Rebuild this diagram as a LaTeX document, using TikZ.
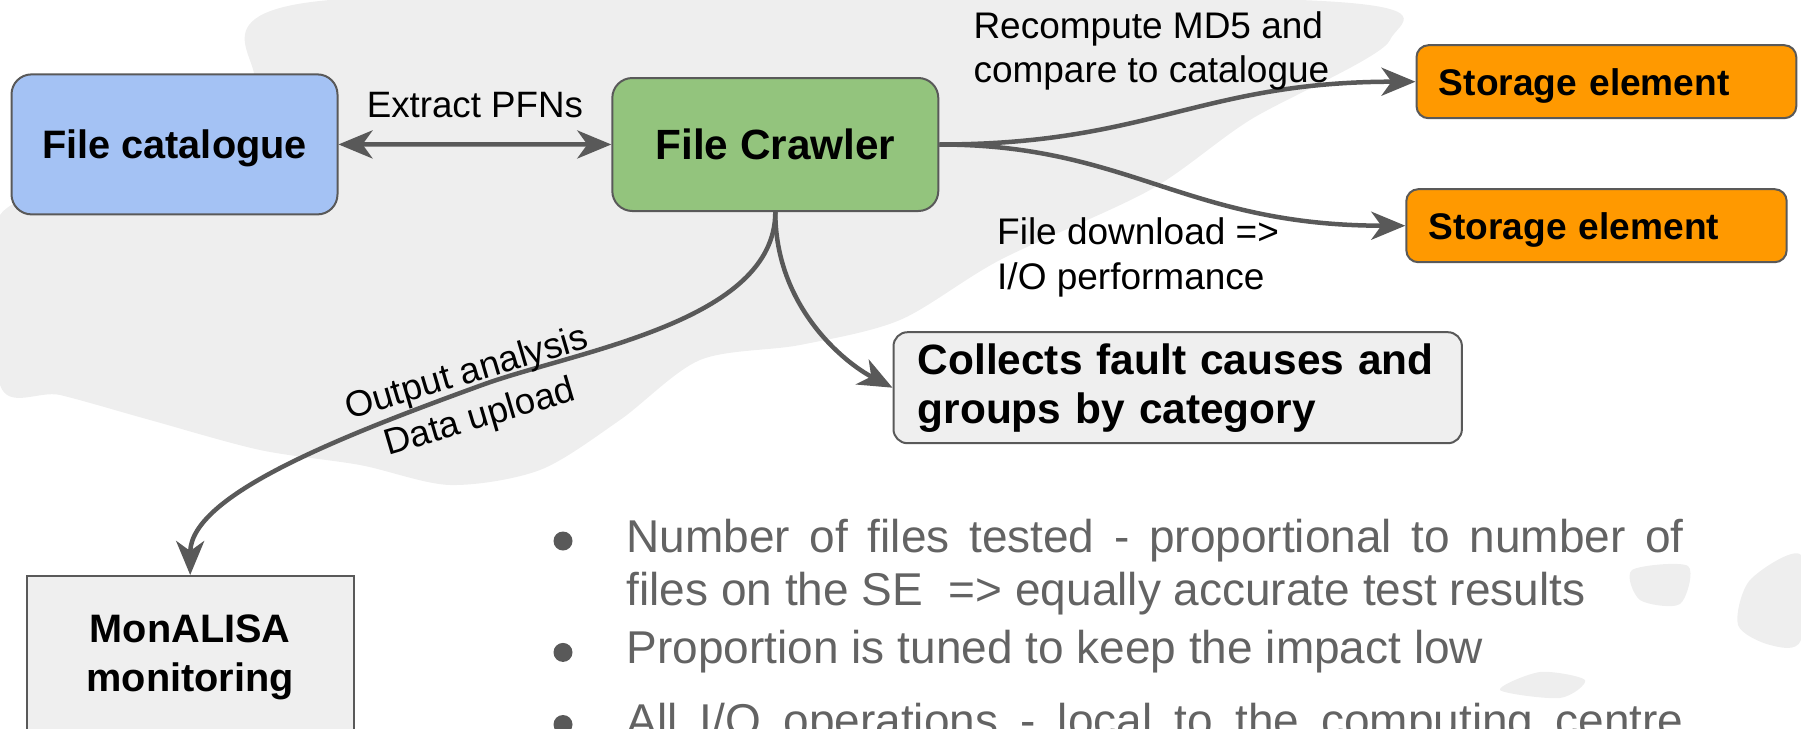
\documentclass[tikz,border=0pt]{standalone}
\usepackage{fontspec}
\setmainfont{Liberation Sans}
\usepackage{tikz}
\usetikzlibrary{arrows.meta}
\definecolor{linecolor}{HTML}{595959}
\definecolor{catfill}{HTML}{A4C2F4}
\definecolor{crawlfill}{HTML}{93C47D}
\definecolor{sefill}{HTML}{FF9900}
\definecolor{notefill}{HTML}{EFEFEF}
\definecolor{splash}{HTML}{EEEEEE}
\definecolor{bullettext}{HTML}{636363}
\newcommand{\fsz}[2]{\fontsize{#1}{#2}\selectfont}

\begin{document}
\begin{tikzpicture}[x=1pt,y=-1pt,
  box/.style={draw=linecolor,line width=2pt,rounded corners=20pt,inner sep=0pt},
  flatbox/.style={box,text depth=0pt},
  flow/.style={draw=linecolor,line width=4.5pt,>={Stealth[length=34pt,width=28pt,inset=10pt]},->},
  lbl/.style={inner sep=0pt,align=left,font=\fsz{37}{44.5}},
  bullettxt/.style={anchor=base west,inner sep=0pt,text=bullettext,font=\fsz{46}{55}},
  bulletdot/.style={circle,fill=linecolor,inner sep=0pt,minimum size=19pt}]
\useasboundingbox (0,0) rectangle (1801,728);
  % splashes in the background
  \fill[splash] plot[smooth cycle] coordinates {(330,0) (1300,0) (1390,40) (1250,120) (1150,190)
    (1000,260) (900,320) (800,345) (700,360) (620,420) (540,470) (450,485) (360,465) (260,450)
    (150,420) (60,395) (0,385) (0,215) (150,170) (250,90)};
  \fill[splash] plot[smooth cycle] coordinates {(1801,555) (1750,580) (1738,625) (1770,645) (1801,640)};
  \fill[splash] plot[smooth cycle] coordinates {(1632,570) (1688,566) (1680,604) (1640,600)};
  \fill[splash] plot[smooth cycle] coordinates {(1500,690) (1540,672) (1585,680) (1560,698)};
  % boxes
  \node[flatbox,fill=catfill,minimum width=326pt,minimum height=140pt,font=\bfseries\fsz{39.7}{46}] (catalogue) at (174.5,144.4) {File catalogue};
  \node[flatbox,fill=crawlfill,minimum width=326pt,minimum height=133pt,font=\bfseries\fsz{42.3}{48}] (crawler) at (775.3,144.5) {File Crawler};
  \node[flatbox,fill=sefill,rounded corners=12pt,text width=335pt,inner xsep=22.4pt,minimum height=73pt,align=left,font=\bfseries\fsz{37.1}{44}] (se1) at (1606.4,81.7) {Storage element};
  \node[flatbox,fill=sefill,rounded corners=12pt,text width=336pt,inner xsep=22.2pt,minimum height=73pt,align=left,font=\bfseries\fsz{37.1}{44}] (se2) at (1596.5,225.7) {Storage element};
  \node[box,fill=notefill,rounded corners=14pt,text width=520pt,inner xsep=24.2pt,minimum height=111pt,align=left,font=\bfseries\fsz{42.4}{49}] (faults) at (1177.7,387.7) {Collects fault causes and\\groups by category};
  \node[draw=linecolor,line width=2pt,fill=notefill,minimum width=327pt,minimum height=162pt,align=center,font=\bfseries\fsz{39.7}{48.7}] (monalisa) at (190.2,657) {MonALISA\\monitoring};
  % connectors
  \draw[flow,<->] (catalogue) -- (crawler) node[midway,above=24pt,inner sep=0pt,font=\fsz{36.7}{44}] (pfnlbl) {Extract PFNs};
  \draw[flow] (crawler.east) .. controls +(210,0) and +(-215,0) .. (se1.west);
  \draw[flow] (crawler.east) .. controls +(190,0) and +(-220,0) .. (se2.west);
  \draw[flow] (crawler.south) .. controls +(0,95) and +(-48,-25) .. (faults.west);
  \coordinate (uplink) at (482,385);
  \draw[flow] (crawler.south) .. controls +(0,110) and +(94,-34.2) .. (uplink)
    .. controls +(-141,51.3) and +(0,-80) .. (monalisa.north);
  \node[rotate=16.5,inner sep=0pt,align=center,font=\fsz{36.5}{46}] (uplbl) at (473.5,396.5) {Output analysis\\Data upload};
  \node[lbl,anchor=north west] (md5lbl) at (973.3,11) {Recompute MD5 and\\compare to catalogue};
  \node[lbl,anchor=north west] (iolbl) at (997,217.7) {File download =>\\I/O performance};
  % notes
  \foreach \yy in {552.5,663.9,736}
    \node[bulletdot] at (563,\yy-11.5) {};
  \node[bullettxt] (note1) at (626.5,552.5) {\makebox[1057pt][s]{Number of files tested - proportional to number of}};
  \node[bullettxt] (note1b) at (626.5,605.8) {files on the SE\ \ => equally accurate test results};
  \node[bullettxt] (note2) at (626.5,663.9) {Proportion is tuned to keep the impact low};
  \node[bullettxt] (note3) at (626.5,736) {\makebox[1057pt][s]{All I/O operations - local to the computing centre}};
\end{tikzpicture}
\end{document}
